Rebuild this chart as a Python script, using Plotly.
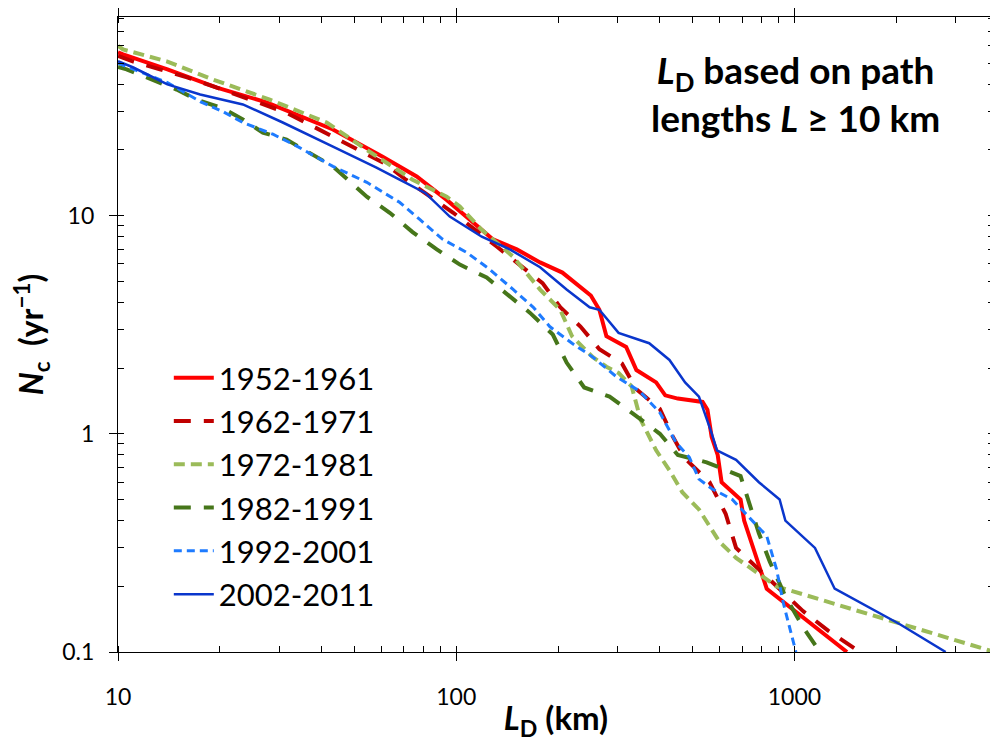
import plotly.graph_objects as go

# ---- data ----
x_1952 = [10, 10.35, 14, 19.6, 27.5, 43.2, 60.6, 76.4, 93.7, 107, 128, 151, 177, 206, 237, 250, 265, 278, 318, 341, 390, 415, 452, 522, 535, 553, 569, 593, 609, 693, 710, 828, 925, 1430]
y_1952 = [56, 54.8, 46.8, 38.6, 33, 24.8, 18.6, 15.1, 11.8, 9.9, 7.8, 7.0, 6.1, 5.48, 4.58, 4.3, 3.7, 2.8, 2.5, 1.96, 1.72, 1.5, 1.45, 1.42, 1.4, 1.29, 0.97, 0.8, 0.6, 0.5, 0.4, 0.195, 0.17, 0.1]

x_1962 = [10, 11.1, 13.3, 16, 19.6, 23.4, 31.5, 43.2, 62, 71, 98, 132, 180, 203, 233, 265, 309, 341, 400, 437, 475, 561, 626, 672, 785, 904, 1060, 1260, 1560]
y_1962 = [54, 50.8, 46.8, 43, 38.6, 35.1, 29.6, 23.0, 17.2, 14.6, 10.3, 7.2, 4.9, 3.8, 3.1, 2.44, 2.1, 1.6, 1.3, 0.97, 0.77, 0.6, 0.43, 0.3, 0.24, 0.195, 0.154, 0.125, 0.1]

x_1972 = [10, 10.35, 14, 19.1, 28.1, 41.4, 54.4, 74.3, 93.7, 102.5, 119, 147, 177, 203, 220, 253, 278, 302, 330, 351, 390, 427, 466, 522, 600, 672, 885, 1040, 1660, 2600, 3900]
y_1972 = [60, 57.7, 50.8, 42, 34, 26.7, 20, 14.6, 12.2, 11.0, 8.6, 6.5, 4.58, 3.7, 2.8, 2.25, 2.03, 1.9, 1.65, 1.16, 0.84, 0.68, 0.54, 0.45, 0.32, 0.27, 0.2, 0.185, 0.149, 0.121, 0.1]

x_1982 = [10, 10.6, 14.9, 17.1, 20.4, 23.4, 26.8, 31.5, 43.2, 48.5, 54.4, 63.6, 74.3, 87.6, 102.5, 123, 141, 165, 193, 212, 239, 284, 330, 400, 452, 550, 693, 740, 785, 845, 940, 1060, 1190]
y_1982 = [48, 46.8, 37.8, 34, 31, 27.6, 24.0, 22.3, 16.8, 14.3, 12.2, 10.3, 8.4, 7.0, 5.96, 5.2, 4.35, 3.59, 2.85, 2.12, 1.63, 1.48, 1.25, 1.0, 0.8, 0.74, 0.64, 0.46, 0.35, 0.26, 0.18, 0.13, 0.1]

x_1992 = [10, 14, 17.5, 20.4, 23.4, 28.7, 34, 43.2, 54.4, 68, 78, 91, 107, 125, 147, 169, 189, 220, 253, 297, 348, 400, 447, 489, 522, 570, 655, 828, 885, 925, 1010]
y_1992 = [50, 40.7, 33.3, 30, 26.7, 23.6, 20.7, 16.8, 14.2, 11.5, 9.6, 7.8, 6.8, 5.7, 4.6, 3.8, 3.1, 2.6, 2.25, 1.83, 1.57, 1.25, 0.91, 0.78, 0.62, 0.56, 0.5, 0.34, 0.24, 0.17, 0.1]

x_2002 = [10, 11.1, 14, 17.5, 23.4, 30.7, 43.2, 58.1, 68, 81, 95.7, 119, 144, 177, 212, 248, 265, 302, 372, 427, 475, 522, 570, 590, 672, 785, 904, 940, 1150, 1315, 2050, 2800]
y_2002 = [51, 47.7, 39.9, 35.9, 32.3, 26.7, 20.7, 16.6, 14.6, 12.7, 9.9, 8.0, 7.0, 5.8, 4.58, 3.8, 3.7, 2.9, 2.6, 2.18, 1.72, 1.48, 1.0, 0.84, 0.76, 0.6, 0.5, 0.4, 0.3, 0.195, 0.134, 0.1]

series_names = ["1952-1961", "1962-1971", "1972-1981", "1982-1991", "1992-2001", "2002-2011"]
x_tick_vals = [10, 100, 1000]
x_tick_text = ["10", "100", "1000"]
y_tick_vals = [0.1, 1, 10]
y_tick_text = ["0.1", "1", "10"]

# ---- styles ----
styles = [
    dict(color="#FF0000", width=4, dash="solid"),
    dict(color="#C00000", width=4, dash="17px,13px"),
    dict(color="#9BBB59", width=4, dash="11px,6px"),
    dict(color="#46761A", width=4, dash="17px,13px"),
    dict(color="#1E7BFF", width=3, dash="8px,5px"),
    dict(color="#0A36CC", width=2.5, dash="solid"),
]
xs = [x_1952, x_1962, x_1972, x_1982, x_1992, x_2002]
ys = [y_1952, y_1962, y_1972, y_1982, y_1992, y_2002]

FONT = "Lato, 'Open Sans', sans-serif"

fig = go.Figure()
for name, xv, yv, st in zip(series_names, xs, ys, styles):
    fig.add_trace(go.Scatter(x=xv, y=yv, mode="lines", name=name, line=st))

minor_x = [m * 10 ** k for k in range(1, 4) for m in range(1, 10)]
minor_y = [m * 10 ** k for k in range(-1, 2) for m in range(1, 10)]

axis_common = dict(
    type="log", showline=True, linecolor="black", linewidth=1.2, mirror="allticks",
    showgrid=False, zeroline=False, ticks="outside", ticklen=8, tickcolor="black",
    tickfont=dict(family=FONT, size=23, color="black"), tickmode="array",
)

fig.update_xaxes(
    **axis_common, range=[1, 3.59], tickvals=x_tick_vals, ticktext=x_tick_text,
    ticklabelstandoff=16,
    minor=dict(ticks="inside", ticklen=6, tickcolor="black", tickmode="array", tickvals=minor_x, showgrid=False),
    title=dict(text="<b><i>L</i><sub>D</sub> (km)</b>", font=dict(family=FONT, size=33, color="black"), standoff=2),
)
fig.update_yaxes(
    **axis_common, range=[-1, 1.91], tickvals=y_tick_vals, ticktext=y_tick_text,
    ticklabelstandoff=10,
    minor=dict(ticks="inside", ticklen=6, tickcolor="black", tickmode="array", tickvals=minor_y, showgrid=False),
    title=dict(text="<b><i>N</i><sub>c</sub>  (yr<sup>−1</sup>)</b>", font=dict(family=FONT, size=32, color="black"), standoff=22),
)

fig.add_annotation(
    x=0.773, y=0.879, xref="paper", yref="paper", xanchor="center", yanchor="middle",
    text="<b><i>L</i><sub>D</sub> based on path<br>lengths <i>L</i> ≥ 10 km</b>",
    showarrow=False, align="center", font=dict(family=FONT, size=37, color="black"),
)

# page has an 8px body margin; size the figure so it fits the 998x742 window
fig.update_layout(
    width=990, height=734,
    margin=dict(l=110, r=4, t=9, b=90, autoexpand=False),
    paper_bgcolor="white", plot_bgcolor="white",
    font=dict(family=FONT, color="black"),
    legend=dict(x=0.058, y=0.474, xanchor="left", yanchor="top", bgcolor="rgba(0,0,0,0)",
                font=dict(family=FONT, size=31, color="black"), itemwidth=40),
    showlegend=True,
)

fig.write_html("out.html")
